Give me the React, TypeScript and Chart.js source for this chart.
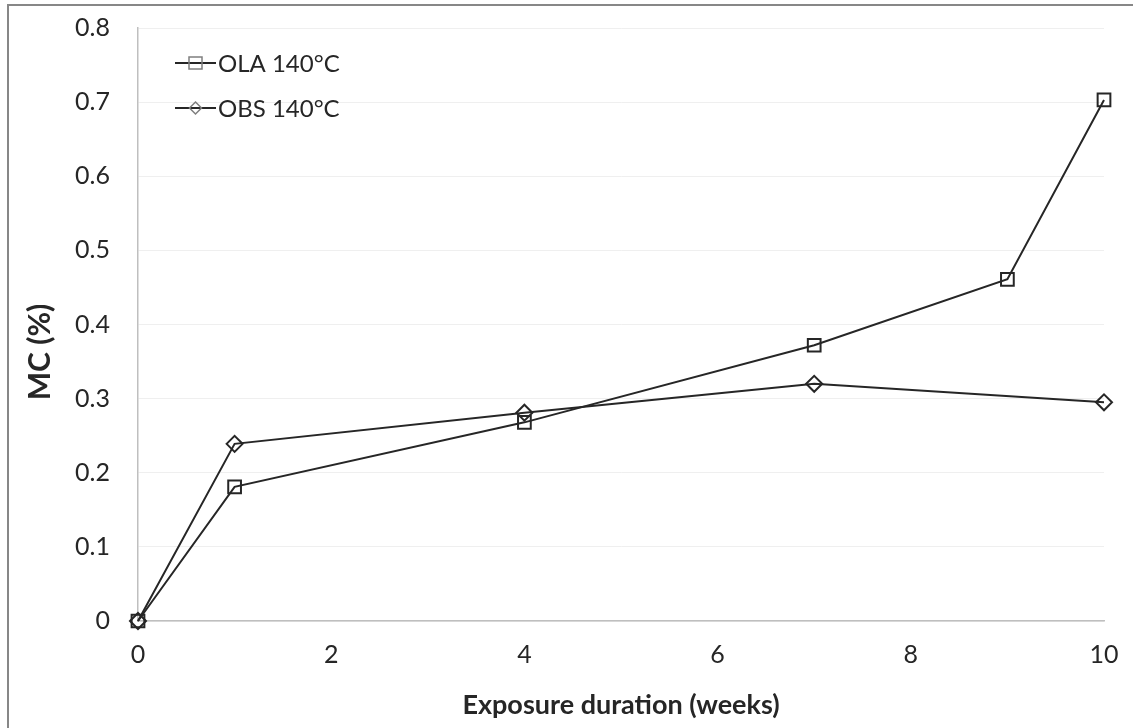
import React, { useEffect, useRef } from "react";
import { Chart, registerables } from "chart.js";

Chart.register(...registerables);

const weeksOLA = [0, 1, 4, 7, 9, 10];
const mcOLA = [0, 0.181, 0.268, 0.372, 0.461, 0.703];
const weeksOBS = [0, 1, 4, 7, 10];
const mcOBS = [0, 0.239, 0.281, 0.32, 0.295];
const seriesLabels = ["OLA 140°C", "OBS 140°C"];
const xTitle = "Exposure duration (weeks)";
const yTitle = "MC (%)";

const FONT = "Lato, 'Open Sans', sans-serif";

const overlayPlugin = {
  id: "overlay",
  afterDraw(chart: any) {
    const { ctx } = chart;
    ctx.save();
    // axis titles
    ctx.fillStyle = "#262626";
    ctx.font = `bold 27px ${FONT}`;
    ctx.textAlign = "center";
    ctx.textBaseline = "middle";
    ctx.fillText(xTitle, 621, 705);
    ctx.save();
    ctx.translate(40, 352);
    ctx.rotate(-Math.PI / 2);
    ctx.font = `bold 30px ${FONT}`;
    ctx.fillText(yTitle, 0, 0);
    ctx.restore();
    // legend
    const rows = [63, 108];
    chart.data.datasets.forEach((ds: any, i: number) => {
      const y = rows[i];
      ctx.strokeStyle = "#262626";
      ctx.lineWidth = 2;
      ctx.beginPath();
      ctx.moveTo(175, y);
      ctx.lineTo(216, y);
      ctx.stroke();
      ctx.strokeStyle = "#7f7f7f";
      ctx.lineWidth = 1.5;
      if (ds.pointStyle === "rect") {
        ctx.strokeRect(189, y - 6, 13, 12);
      } else {
        ctx.beginPath();
        ctx.moveTo(195.5, y - 6);
        ctx.lineTo(201.5, y);
        ctx.lineTo(195.5, y + 6);
        ctx.lineTo(189.5, y);
        ctx.closePath();
        ctx.stroke();
      }
      ctx.fillStyle = "#262626";
      ctx.font = `24px ${FONT}`;
      ctx.textAlign = "left";
      ctx.textBaseline = "middle";
      ctx.fillText(ds.label, 218, y + 1);
    });
    ctx.restore();
  },
};

export default function App() {
  const ref = useRef<HTMLCanvasElement>(null);
  useEffect(() => {
    if (!ref.current) return;
    const chart = new Chart(ref.current, {
      type: "line",
      data: {
        datasets: [
          {
            label: seriesLabels[0],
            data: weeksOLA.map((x, i) => ({ x, y: mcOLA[i] })),
            borderColor: "#262626",
            borderWidth: 2,
            pointStyle: "rect",
            pointRadius: 9,
            pointBorderColor: "#262626",
            pointBorderWidth: 2,
            pointBackgroundColor: "transparent",
            clip: false,
          },
          {
            label: seriesLabels[1],
            data: weeksOBS.map((x, i) => ({ x, y: mcOBS[i] })),
            borderColor: "#262626",
            borderWidth: 2,
            pointStyle: "rectRot",
            pointRadius: 8,
            pointBorderColor: "#262626",
            pointBorderWidth: 2,
            pointBackgroundColor: "transparent",
            clip: false,
          },
        ],
      },
      options: {
        animation: false,
        responsive: false,
        layout: { autoPadding: false, padding: { left: 0, right: 29, top: 28, bottom: 0 } },
        plugins: { legend: { display: false }, tooltip: { enabled: false } },
        scales: {
          x: {
            type: "linear",
            min: 0,
            max: 10,
            ticks: {
              stepSize: 2,
              color: "#262626",
              font: { family: FONT, size: 25 },
              padding: 19,
            },
            grid: { display: false, drawTicks: false },
            border: { display: true, color: "#bfbfbf", width: 1.5 },
            afterFit(scale: any) {
              scale.height = 107;
              scale.paddingLeft = 0;
              scale.paddingRight = 0;
            },
          },
          y: {
            min: 0,
            max: 0.8,
            ticks: {
              stepSize: 0.1,
              color: "#262626",
              font: { family: FONT, size: 25 },
              padding: 28,
              callback: (v: any) => String(Math.round(Number(v) * 10) / 10),
            },
            grid: { color: "#efefef", lineWidth: 1, drawTicks: false },
            border: { display: true, color: "#bfbfbf", width: 1.5 },
            afterFit(scale: any) {
              scale.width = 138;
              scale.paddingTop = 0;
              scale.paddingBottom = 0;
            },
          },
        },
      },
      plugins: [overlayPlugin],
    } as any);
    return () => chart.destroy();
  }, []);
  return (
    <div style={{ position: "fixed", left: 0, top: 0, width: 1133, height: 728, background: "#fff" }}>
      <div
        style={{
          position: "absolute",
          left: 7,
          top: 4,
          width: 1140,
          height: 740,
          borderTop: "2px solid #878787",
          borderLeft: "2px solid #878787",
          boxSizing: "border-box",
        }}
      />
      <canvas ref={ref} width={1133} height={728} style={{ position: "absolute", left: 0, top: 0 }} />
    </div>
  );
}
